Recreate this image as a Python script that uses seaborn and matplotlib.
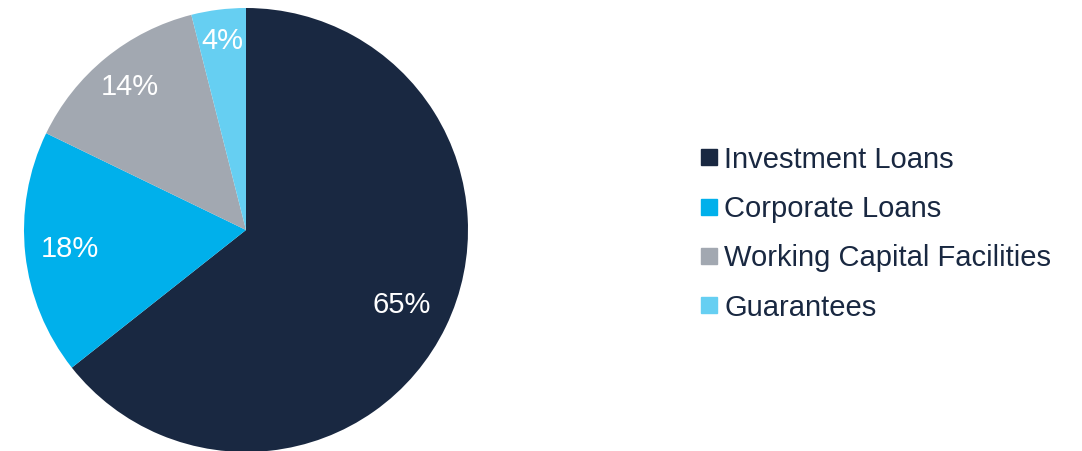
import matplotlib
matplotlib.use("Agg")
import numpy as np
import matplotlib.pyplot as plt
from matplotlib.lines import Line2D
import seaborn as sns

# Portfolio breakdown by product type (%)
categories = ["Investment Loans", "Corporate Loans", "Working Capital Facilities", "Guarantees"]
shares = [65, 18, 14, 4]
colors = ["#192841", "#00B0EB", "#A2A8B1", "#66CFF2"]

sns.set_theme(style="white")
plt.rcParams["font.family"] = ["Liberation Sans", "DejaVu Sans"]

fig = plt.figure(figsize=(10.82, 4.51), dpi=100)
fig.patch.set_facecolor("white")

# Pie axes: centred at (246, 230) px with radius ~222 px
W, H = 1082, 451
cx, cy, r = 246, 230, 222
ax = fig.add_axes([(cx - r) / W, 1 - (cy + r) / H, 2 * r / W, 2 * r / H])

wedges, _ = ax.pie(shares, colors=colors, startangle=90, counterclock=False,
                   radius=1.0, wedgeprops=dict(linewidth=0))
ax.set_xlim(-1, 1)
ax.set_ylim(-1, 1)
ax.set_aspect("equal")
ax.axis("off")

# Percentage labels inside each slice
label_r = [0.78, 0.80, 0.83, 0.86]
for w, v, lr in zip(wedges, shares, label_r):
    mid = np.deg2rad((w.theta1 + w.theta2) / 2)
    ax.text(lr * np.cos(mid), lr * np.sin(mid), f"{v}%", color="white",
            fontsize=21, ha="center", va="center")

handles = [Line2D([0], [0], marker="s", linestyle="none", markersize=11,
                  markerfacecolor=c, markeredgecolor=c) for c in colors]
leg = fig.legend(handles, categories, loc="center left",
                 bbox_to_anchor=(0.6465, 0.482), frameon=False, fontsize=21,
                 handlelength=0.65, handletextpad=0.2, labelspacing=0.73,
                 borderpad=0, borderaxespad=0)
for t in leg.get_texts():
    t.set_color("#192841")

fig.savefig("out.png", dpi=100, facecolor="white")
